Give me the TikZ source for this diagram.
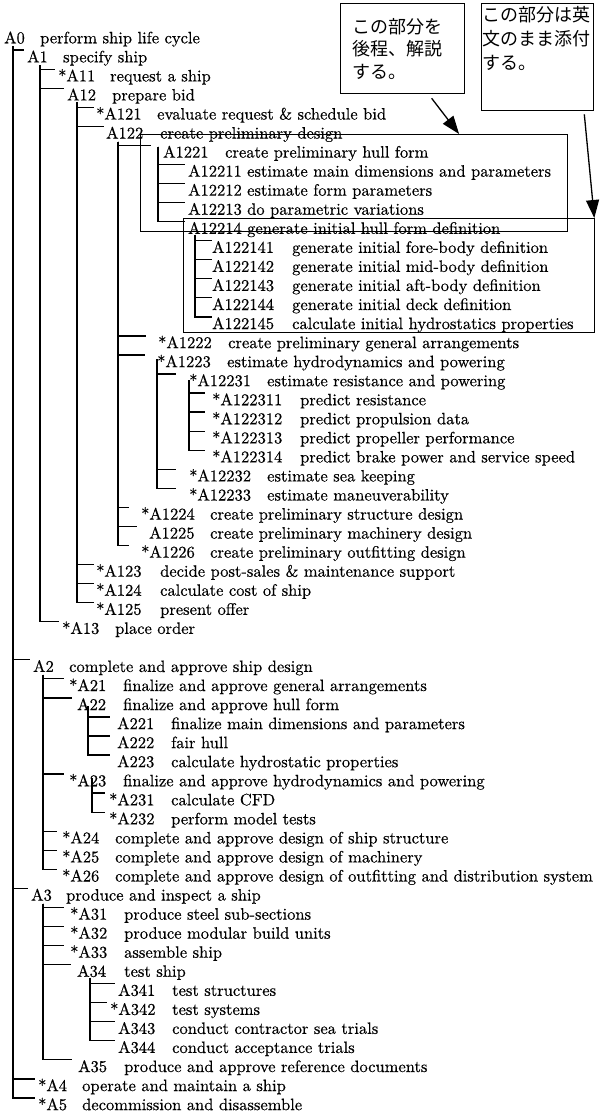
\documentclass[tikz,border=0pt]{standalone}
\usepackage{fontspec}
\newfontfamily\jpfont{Noto Sans CJK JP}
\newfontfamily\itemfont{lmroman10-regular.otf}[FakeBold=0.4]
\usetikzlibrary{arrows.meta,calc}
\tikzset{
  item/.style={anchor=base west,inner sep=0pt,text height=12pt,text depth=4pt,
               font=\itemfont\fontsize{16.5}{19}\selectfont},
  tree/.style={line width=1.3pt},
  frame/.style={draw,line width=1.3pt,inner sep=0pt,anchor=north west},
  note/.style={draw,line width=1.3pt,anchor=north west,
               font=\jpfont\fontsize{18}{22.5}\selectfont},
  callout/.style={-{Triangle[length=18pt,width=13pt]},line width=1.3pt}
}

\begin{document}
\begin{tikzpicture}[x=1pt,y=-1pt]
    \useasboundingbox (0,0) rectangle (600,1116);
    % activity list: name / x / row / id width / id / text
    \foreach \nm/\xx/\rw/\w/\id/\txt in {
      a0/4/0/36/A0/perform ship life cycle,
      a1/27/1/36/A1/specify ship,
      a11/58/2/52/*A11/request a ship,
      a12/67/3/45/A12/prepare bid,
      a121/96/4/61/*A121/evaluate request \& schedule bid,
      a122/106/5/54/A122/create preliminary design,
      a1221/163/6/62/A1221/create preliminary hull form,
      a12211/188/7/59/A12211/estimate main dimensions and parameters,
      a12212/188/8/59/A12212/estimate form parameters,
      a12213/188/9/59/A12213/do parametric variations,
      a12214/188/10/59/A12214/generate initial hull form definition,
      a122141/212/11/80/A122141/generate initial fore-body definition,
      a122142/212/12/80/A122142/generate initial mid-body definition,
      a122143/212/13/80/A122143/generate initial aft-body definition,
      a122144/212/14/80/A122144/generate initial deck definition,
      a122145/212/15/80/A122145/calculate initial hydrostatics properties,
      a1222/158/16/70/*A1222/create preliminary general arrangements,
      a1223/157/17/70/*A1223/estimate hydrodynamics and powering,
      a12231/189/18/78/*A12231/estimate resistance and powering,
      a122311/212/19/88/*A122311/predict resistance,
      a122312/212/20/88/*A122312/predict propulsion data,
      a122313/212/21/88/*A122313/predict propeller performance,
      a122314/212/22/88/*A122314/predict brake power and service speed,
      a12232/189/23/78/*A12232/estimate sea keeping,
      a12233/189/24/78/*A12233/estimate maneuverability,
      a1224/141/25/69/*A1224/create preliminary structure design,
      a1225/149/26/61/A1225/create preliminary machinery design,
      a1226/141/27/69/*A1226/create preliminary outfitting design,
      a123/96/28/64/*A123/decide post-sales \& maintenance support,
      a124/96/29/64/*A124/calculate cost of ship,
      a125/96/30/64/*A125/present offer,
      a13/62/31/53/*A13/place order,
      a2/33/33/36/A2/complete and approve ship design,
      a21/69/34/54/*A21/finalize and approve general arrangements,
      a22/77/35/46/A22/finalize and approve hull form,
      a221/117/36/54/A221/finalize main dimensions and parameters,
      a222/117/37/54/A222/fair hull,
      a223/117/38/54/A223/calculate hydrostatic properties,
      a23/69/39/54/*A23/finalize and approve hydrodynamics and powering,
      a231/109/40/62/*A231/calculate CFD,
      a232/109/41/62/*A232/perform model tests,
      a24/62/42/53/*A24/complete and approve design of ship structure,
      a25/62/43/53/*A25/complete and approve design of machinery,
      a26/62/44/53/*A26/complete and approve design of outfitting and distribution system,
      a3/31/45/35/A3/produce and inspect a ship,
      a31/70/46/54/*A31/produce steel sub-sections,
      a32/70/47/54/*A32/produce modular build units,
      a33/70/48/54/*A33/assemble ship,
      a34/77/49/47/A34/test ship,
      a341/118/50/54/A341/test structures,
      a342/110/51/62/*A342/test systems,
      a343/118/52/54/A343/conduct contractor sea trials,
      a344/118/53/54/A344/conduct acceptance trials,
      a35/78/54/46/A35/produce and approve reference documents,
      a4/38/55/44/*A4/operate and maintain a ship,
      a5/38/56/44/*A5/decommission and disassemble}{
      \node[item] (\nm) at (\xx,{43.3+19.05*\rw}) {\makebox[\w pt][l]{\id}\txt};
    }
    % tree lines: parent / dx / dy / gap / children
    \foreach \p/\dx/\dy/\g/\kids in {
      a0/9/3/3/{a1,a2,a3,a4,a5},
      a1/13/3/3/{a11,a12,a13},
      a12/10/2/2/{a121,a122,a123,a124,a125},
      a122/12/3/12/{a1221,a1222,a1223,a1224,a1225,a1226},
      a1221/-5/-11/3/{a12211,a12212,a12213,a12214},
      a12214/7/1/0/{a122141,a122142,a122143,a122144,a122145},
      a1223/0/-8/13/{a12231,a12232,a12233},
      a12231/0/-6/7/{a122311,a122312,a122313,a122314},
      a2/10/3/5/{a21,a22,a23,a24,a25,a26},
      a22/11/-4/7/{a221,a222,a223},
      a23/23/-8/4/{a231,a232},
      a3/12/3/6/{a31,a32,a33,a34,a35},
      a34/13/1/3/{a341,a342,a343,a344}}{
      \foreach \kid in \kids
        \draw[tree] ($(\p.base west)+(\dx,\dy)$) |- ($(\kid.north west)+(-\g,0)$);
    }
    % framed parts
    \node[frame,minimum width=427pt,minimum height=97pt] (hullbox) at (140,134) {};
    \node[frame,minimum width=411pt,minimum height=114pt] (defbox) at (183,218) {};
    % notes
    \node[note,align=left,text width=100pt,inner xsep=12pt,minimum height=90pt]
      (noteA) at (340,3) {この部分を\\後程、解説\\する。};
    \node[note,inner xsep=1pt,inner ysep=2.5pt] (noteB) at (481,3)
      {\parbox[t][102pt][t]{110pt}{\baselineskip=24pt この部分は英\\文のまま添付\\する。}};
    \draw[callout] ($(noteA.south)+(29,4)$)
      -- ($(hullbox.north west)!0.745!(hullbox.north east)$);
    \draw[callout] ($(noteB.south east)+(-10,3)$) -- ($(defbox.north east)+(-1,0)$);
\end{tikzpicture}
\end{document}
